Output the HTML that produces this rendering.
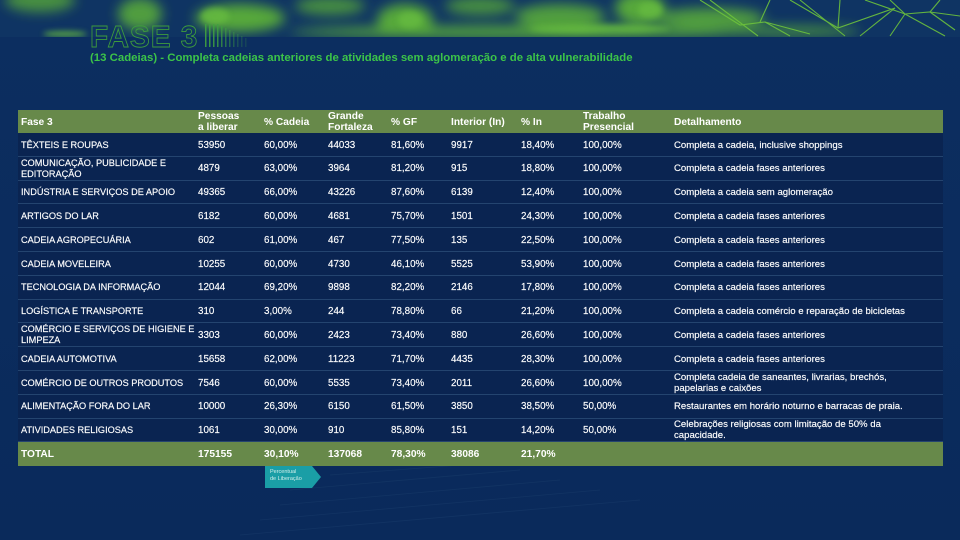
<!DOCTYPE html>
<html><head><meta charset="utf-8">
<style>
html,body{margin:0;padding:0;}
body{width:960px;height:540px;overflow:hidden;position:relative;background:#0b2b5d;font-family:"Liberation Sans",sans-serif;color:#fff;}
.t{position:absolute;white-space:nowrap;font-size:9.8px;line-height:11px;-webkit-text-stroke:0.15px #fff;}
.n{font-size:9.2px;}
.d{font-size:9.6px;}
.h{font-weight:bold;font-size:10.2px;line-height:11px;-webkit-text-stroke:0;}
.row{position:absolute;left:18px;width:925px;background:#0a2451;border-bottom:1px solid #24446f;box-sizing:border-box;}
</style></head><body>
<svg width="960" height="540" style="position:absolute;left:0;top:0" xmlns="http://www.w3.org/2000/svg">
<defs>
<filter id="b1" x="-50%" y="-50%" width="200%" height="200%"><feGaussianBlur stdDeviation="6"/></filter>
<filter id="b2" x="-50%" y="-50%" width="200%" height="200%"><feGaussianBlur stdDeviation="3"/></filter>
<linearGradient id="bg" x1="0" y1="0" x2="0" y2="1">
<stop offset="0" stop-color="#0c2e60"/><stop offset="1" stop-color="#0a2a5b"/></linearGradient>
<clipPath id="top"><rect x="0" y="0" width="960" height="37"/></clipPath>
</defs>
<rect width="960" height="540" fill="url(#bg)"/>
<g clip-path="url(#top)">
<rect width="960" height="37" fill="#0f3463"/>
<g filter="url(#b1)" fill="#56a83a">
<ellipse cx="40" cy="0" rx="35" ry="12" opacity="0.8"/>
<ellipse cx="140" cy="14" rx="22" ry="16" opacity="0.9"/>
<ellipse cx="240" cy="18" rx="45" ry="14"/>
<ellipse cx="330" cy="6" rx="35" ry="9" opacity="0.8"/>
<ellipse cx="405" cy="20" rx="28" ry="16"/>
<ellipse cx="480" cy="6" rx="35" ry="9" opacity="0.8"/>
<ellipse cx="560" cy="16" rx="45" ry="12" opacity="0.9"/>
<ellipse cx="640" cy="8" rx="25" ry="16"/>
<ellipse cx="710" cy="18" rx="55" ry="10" opacity="0.9"/>
<ellipse cx="520" cy="32" rx="230" ry="6"/>
<ellipse cx="790" cy="31" rx="70" ry="5" opacity="0.8"/>
</g>
<g filter="url(#b2)" fill="#66bb40" opacity="0.8">
<ellipse cx="65" cy="34" rx="22" ry="3"/>
<ellipse cx="215" cy="16" rx="14" ry="8"/>
<ellipse cx="600" cy="29" rx="70" ry="4"/>
<ellipse cx="410" cy="20" rx="12" ry="8"/>
<ellipse cx="650" cy="10" rx="12" ry="8"/>
</g>
<g stroke="#6dc23c" stroke-width="1.1" fill="none" opacity="0.9">
<path d="M700 0 L740 25 L765 22 L810 34"/>
<path d="M710 0 L758 36"/>
<path d="M760 22 L770 0"/>
<path d="M765 22 L790 36"/>
<path d="M790 0 L838 28 L895 8"/>
<path d="M800 0 L845 36"/>
<path d="M838 28 L840 0"/>
<path d="M865 0 L905 14 L930 12 L955 30"/>
<path d="M905 14 L890 36"/>
<path d="M905 14 L945 36"/>
<path d="M930 12 L960 16"/>
<path d="M890 0 L905 14"/>
<path d="M940 0 L930 12"/>
<path d="M860 36 L895 8"/>
</g>
</g>
<g stroke="#1a3d6c" stroke-width="0.8" opacity="0.5">
<path d="M290 490 L520 470"/><path d="M280 505 L560 480"/><path d="M260 520 L600 490"/><path d="M240 535 L640 500"/>
<path d="M330 475 L500 462"/>
</g>
<!-- FASE 3 outline -->
<text x="90" y="47" font-family="Liberation Sans" font-size="31" font-weight="bold" fill="none" stroke="#3e9c3c" stroke-width="0.9" transform="translate(90 0) scale(0.96 1) translate(-90 0)" letter-spacing="1">FASE 3</text>
<g fill="#3fa23f">
<rect x="205" y="24" width="1.5" height="23" opacity="0.9"/>
<rect x="209" y="24" width="1.5" height="23" opacity="0.9"/>
<rect x="213" y="24" width="1.5" height="23" opacity="0.85"/>
<rect x="217" y="24" width="1.5" height="23" opacity="0.8"/>
<rect x="221" y="26" width="1.5" height="21" opacity="0.7"/>
<rect x="225" y="28" width="1.5" height="19" opacity="0.6"/>
<rect x="229" y="30" width="1.5" height="17" opacity="0.5"/>
<rect x="233" y="32" width="1.5" height="15" opacity="0.4"/>
<rect x="237" y="34" width="1.5" height="13" opacity="0.3"/>
<rect x="241" y="36" width="1.5" height="11" opacity="0.25"/>
<rect x="245" y="38" width="1.5" height="9" opacity="0.2"/>
</g>
<!-- callout -->
<polygon points="265,466 312,466 321,477 312,488 265,488" fill="#1a9ea6"/>
</svg>

<div class="t" style="left:90px;top:52px;font-size:11.4px;line-height:13px;font-weight:bold;color:#3cc449;-webkit-text-stroke:0;">(13 Cadeias) - Completa cadeias anteriores de atividades sem aglomeração e de alta vulnerabilidade</div>

<div class="t" style="left:270px;top:469px;font-size:5.5px;line-height:7px;color:#cfeeea;-webkit-text-stroke:0;">Percentual<br>de Liberação</div>

<!-- header -->
<div class="row" style="top:110px;height:23px;background:#67894a;border:none;"></div>
<div class="t h" style="left:21px;top:116.5px;">Fase 3</div>
<div class="t h" style="left:198px;top:110.5px;">Pessoas<br>a liberar</div>
<div class="t h" style="left:264px;top:116.5px;">% Cadeia</div>
<div class="t h" style="left:328px;top:110.5px;">Grande<br>Fortaleza</div>
<div class="t h" style="left:391px;top:116.5px;">% GF</div>
<div class="t h" style="left:451px;top:116.5px;">Interior (In)</div>
<div class="t h" style="left:521px;top:116.5px;">% In</div>
<div class="t h" style="left:583px;top:110.5px;">Trabalho<br>Presencial</div>
<div class="t h" style="left:674px;top:116.5px;">Detalhamento</div>

<div class="row" style="top:133px;height:23.8px;"></div>
<div class="row" style="top:156.8px;height:23.8px;"></div>
<div class="row" style="top:180.6px;height:23.8px;"></div>
<div class="row" style="top:204.4px;height:23.8px;"></div>
<div class="row" style="top:228.2px;height:23.8px;"></div>
<div class="row" style="top:252px;height:23.8px;"></div>
<div class="row" style="top:275.8px;height:23.8px;"></div>
<div class="row" style="top:299.6px;height:23.8px;"></div>
<div class="row" style="top:323.4px;height:23.8px;"></div>
<div class="row" style="top:347.2px;height:23.8px;"></div>
<div class="row" style="top:371px;height:23.8px;"></div>
<div class="row" style="top:394.8px;height:23.8px;"></div>
<div class="row" style="top:418.6px;height:23.8px;"></div>
<div class="row" style="top:442.4px;height:23.6px;background:#67894a;border:none;"></div>

<!-- row 1 -->
<div class="t n" style="left:21px;top:139.5px;">TÊXTEIS E ROUPAS</div>
<div class="t" style="left:198px;top:139.5px;">53950</div>
<div class="t" style="left:264px;top:139.5px;">60,00%</div>
<div class="t" style="left:328px;top:139.5px;">44033</div>
<div class="t" style="left:391px;top:139.5px;">81,60%</div>
<div class="t" style="left:451px;top:139.5px;">9917</div>
<div class="t" style="left:521px;top:139.5px;">18,40%</div>
<div class="t" style="left:583px;top:139.5px;">100,00%</div>
<div class="t d" style="left:674px;top:139.5px;">Completa a cadeia, inclusive shoppings</div>
<!-- row 2 -->
<div class="t n" style="left:21px;top:157.5px;">COMUNICAÇÃO, PUBLICIDADE E<br>EDITORAÇÃO</div>
<div class="t" style="left:198px;top:163.3px;">4879</div>
<div class="t" style="left:264px;top:163.3px;">63,00%</div>
<div class="t" style="left:328px;top:163.3px;">3964</div>
<div class="t" style="left:391px;top:163.3px;">81,20%</div>
<div class="t" style="left:451px;top:163.3px;">915</div>
<div class="t" style="left:521px;top:163.3px;">18,80%</div>
<div class="t" style="left:583px;top:163.3px;">100,00%</div>
<div class="t d" style="left:674px;top:163.3px;">Completa a cadeia fases anteriores</div>
<!-- row 3 -->
<div class="t n" style="left:21px;top:187.1px;">INDÚSTRIA E SERVIÇOS DE APOIO</div>
<div class="t" style="left:198px;top:187.1px;">49365</div>
<div class="t" style="left:264px;top:187.1px;">66,00%</div>
<div class="t" style="left:328px;top:187.1px;">43226</div>
<div class="t" style="left:391px;top:187.1px;">87,60%</div>
<div class="t" style="left:451px;top:187.1px;">6139</div>
<div class="t" style="left:521px;top:187.1px;">12,40%</div>
<div class="t" style="left:583px;top:187.1px;">100,00%</div>
<div class="t d" style="left:674px;top:187.1px;">Completa a cadeia sem aglomeração</div>
<!-- row 4 -->
<div class="t n" style="left:21px;top:210.9px;">ARTIGOS DO LAR</div>
<div class="t" style="left:198px;top:210.9px;">6182</div>
<div class="t" style="left:264px;top:210.9px;">60,00%</div>
<div class="t" style="left:328px;top:210.9px;">4681</div>
<div class="t" style="left:391px;top:210.9px;">75,70%</div>
<div class="t" style="left:451px;top:210.9px;">1501</div>
<div class="t" style="left:521px;top:210.9px;">24,30%</div>
<div class="t" style="left:583px;top:210.9px;">100,00%</div>
<div class="t d" style="left:674px;top:210.9px;">Completa a cadeia fases anteriores</div>
<!-- row 5 -->
<div class="t n" style="left:21px;top:234.7px;">CADEIA AGROPECUÁRIA</div>
<div class="t" style="left:198px;top:234.7px;">602</div>
<div class="t" style="left:264px;top:234.7px;">61,00%</div>
<div class="t" style="left:328px;top:234.7px;">467</div>
<div class="t" style="left:391px;top:234.7px;">77,50%</div>
<div class="t" style="left:451px;top:234.7px;">135</div>
<div class="t" style="left:521px;top:234.7px;">22,50%</div>
<div class="t" style="left:583px;top:234.7px;">100,00%</div>
<div class="t d" style="left:674px;top:234.7px;">Completa a cadeia fases anteriores</div>
<!-- row 6 -->
<div class="t n" style="left:21px;top:258.5px;">CADEIA MOVELEIRA</div>
<div class="t" style="left:198px;top:258.5px;">10255</div>
<div class="t" style="left:264px;top:258.5px;">60,00%</div>
<div class="t" style="left:328px;top:258.5px;">4730</div>
<div class="t" style="left:391px;top:258.5px;">46,10%</div>
<div class="t" style="left:451px;top:258.5px;">5525</div>
<div class="t" style="left:521px;top:258.5px;">53,90%</div>
<div class="t" style="left:583px;top:258.5px;">100,00%</div>
<div class="t d" style="left:674px;top:258.5px;">Completa a cadeia fases anteriores</div>
<!-- row 7 -->
<div class="t n" style="left:21px;top:282.3px;">TECNOLOGIA DA INFORMAÇÃO</div>
<div class="t" style="left:198px;top:282.3px;">12044</div>
<div class="t" style="left:264px;top:282.3px;">69,20%</div>
<div class="t" style="left:328px;top:282.3px;">9898</div>
<div class="t" style="left:391px;top:282.3px;">82,20%</div>
<div class="t" style="left:451px;top:282.3px;">2146</div>
<div class="t" style="left:521px;top:282.3px;">17,80%</div>
<div class="t" style="left:583px;top:282.3px;">100,00%</div>
<div class="t d" style="left:674px;top:282.3px;">Completa a cadeia fases anteriores</div>
<!-- row 8 -->
<div class="t n" style="left:21px;top:306.1px;">LOGÍSTICA E TRANSPORTE</div>
<div class="t" style="left:198px;top:306.1px;">310</div>
<div class="t" style="left:264px;top:306.1px;">3,00%</div>
<div class="t" style="left:328px;top:306.1px;">244</div>
<div class="t" style="left:391px;top:306.1px;">78,80%</div>
<div class="t" style="left:451px;top:306.1px;">66</div>
<div class="t" style="left:521px;top:306.1px;">21,20%</div>
<div class="t" style="left:583px;top:306.1px;">100,00%</div>
<div class="t d" style="left:674px;top:306.1px;">Completa a cadeia comércio e reparação de bicicletas</div>
<!-- row 9 -->
<div class="t n" style="left:21px;top:324.1px;">COMÉRCIO E SERVIÇOS DE HIGIENE E<br>LIMPEZA</div>
<div class="t" style="left:198px;top:329.9px;">3303</div>
<div class="t" style="left:264px;top:329.9px;">60,00%</div>
<div class="t" style="left:328px;top:329.9px;">2423</div>
<div class="t" style="left:391px;top:329.9px;">73,40%</div>
<div class="t" style="left:451px;top:329.9px;">880</div>
<div class="t" style="left:521px;top:329.9px;">26,60%</div>
<div class="t" style="left:583px;top:329.9px;">100,00%</div>
<div class="t d" style="left:674px;top:329.9px;">Completa a cadeia fases anteriores</div>
<!-- row 10 -->
<div class="t n" style="left:21px;top:353.7px;">CADEIA AUTOMOTIVA</div>
<div class="t" style="left:198px;top:353.7px;">15658</div>
<div class="t" style="left:264px;top:353.7px;">62,00%</div>
<div class="t" style="left:328px;top:353.7px;">11223</div>
<div class="t" style="left:391px;top:353.7px;">71,70%</div>
<div class="t" style="left:451px;top:353.7px;">4435</div>
<div class="t" style="left:521px;top:353.7px;">28,30%</div>
<div class="t" style="left:583px;top:353.7px;">100,00%</div>
<div class="t d" style="left:674px;top:353.7px;">Completa a cadeia fases anteriores</div>
<!-- row 11 -->
<div class="t n" style="left:21px;top:377.5px;">COMÉRCIO DE OUTROS PRODUTOS</div>
<div class="t" style="left:198px;top:377.5px;">7546</div>
<div class="t" style="left:264px;top:377.5px;">60,00%</div>
<div class="t" style="left:328px;top:377.5px;">5535</div>
<div class="t" style="left:391px;top:377.5px;">73,40%</div>
<div class="t" style="left:451px;top:377.5px;">2011</div>
<div class="t" style="left:521px;top:377.5px;">26,60%</div>
<div class="t" style="left:583px;top:377.5px;">100,00%</div>
<div class="t d" style="left:674px;top:371.7px;">Completa cadeia de saneantes, livrarias, brechós,<br>papelarias e caixões</div>
<!-- row 12 -->
<div class="t n" style="left:21px;top:401.3px;">ALIMENTAÇÃO FORA DO LAR</div>
<div class="t" style="left:198px;top:401.3px;">10000</div>
<div class="t" style="left:264px;top:401.3px;">26,30%</div>
<div class="t" style="left:328px;top:401.3px;">6150</div>
<div class="t" style="left:391px;top:401.3px;">61,50%</div>
<div class="t" style="left:451px;top:401.3px;">3850</div>
<div class="t" style="left:521px;top:401.3px;">38,50%</div>
<div class="t" style="left:583px;top:401.3px;">50,00%</div>
<div class="t d" style="left:674px;top:401.3px;">Restaurantes em horário noturno e barracas de praia.</div>
<!-- row 13 -->
<div class="t n" style="left:21px;top:425.1px;">ATIVIDADES RELIGIOSAS</div>
<div class="t" style="left:198px;top:425.1px;">1061</div>
<div class="t" style="left:264px;top:425.1px;">30,00%</div>
<div class="t" style="left:328px;top:425.1px;">910</div>
<div class="t" style="left:391px;top:425.1px;">85,80%</div>
<div class="t" style="left:451px;top:425.1px;">151</div>
<div class="t" style="left:521px;top:425.1px;">14,20%</div>
<div class="t" style="left:583px;top:425.1px;">50,00%</div>
<div class="t d" style="left:674px;top:419.3px;">Celebrações religiosas com limitação de 50% da<br>capacidade.</div>
<!-- total -->
<div class="t h" style="left:21px;top:448.9px;">TOTAL</div>
<div class="t h" style="left:198px;top:448.9px;">175155</div>
<div class="t h" style="left:264px;top:448.9px;">30,10%</div>
<div class="t h" style="left:328px;top:448.9px;">137068</div>
<div class="t h" style="left:391px;top:448.9px;">78,30%</div>
<div class="t h" style="left:451px;top:448.9px;">38086</div>
<div class="t h" style="left:521px;top:448.9px;">21,70%</div>
</body></html>
